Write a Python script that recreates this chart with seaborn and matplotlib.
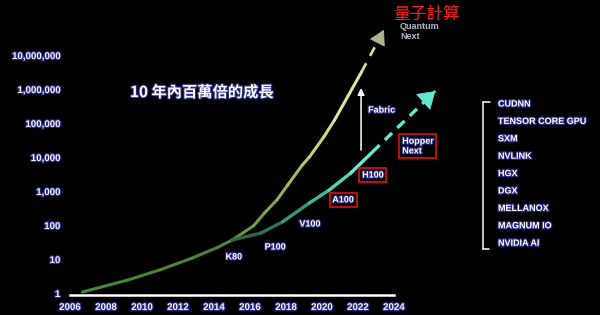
import numpy as np
import pandas as pd
import matplotlib
matplotlib.use("Agg")
import matplotlib.pyplot as plt
import matplotlib.patheffects as pe
from matplotlib.colors import LinearSegmentedColormap
from matplotlib.lines import Line2D
import seaborn as sns

# ---------------- data ----------------
x_ticks = [2006, 2008, 2010, 2012, 2014, 2016, 2018, 2020, 2022, 2024]
y_ticks = [1, 10, 100, 1_000, 10_000, 100_000, 1_000_000, 10_000_000]
y_tick_labels = ["1", "10", "100", "1,000", "10,000", "100,000", "1,000,000", "10,000,000"]

green_years = [2006.7, 2009.2, 2011.0, 2012.8, 2014.2, 2015.0, 2015.6, 2016.2, 2016.8,
               2017.5, 2018.1, 2018.9, 2019.3, 2020.1, 2020.7, 2022.2]
green_values = [1.07, 2.4, 4.8, 10.7, 22, 36, 58, 95, 224,
                550, 1510, 5750, 10000, 39000, 123000, 3200000]

cyan_years = [2015.0, 2016.6, 2017.8, 2019.3, 2020.4, 2021.6, 2022.8]
cyan_values = [36, 58, 123, 445, 1070, 3390, 14000]

green_next_years = [2022.2, 2023.44]
green_next_values = [3.2e6, 5.5e7]
cyan_next_years = [2022.8, 2026.3]
cyan_next_values = [1.4e4, 8.7e5]

fabric_years = [2022.17, 2022.17]
fabric_values = [1.6e4, 1.07e6]

gpu_labels = ["K80", "P100", "V100", "A100", "H100", "Hopper\nNext"]
gpu_years = [2015.1, 2017.4, 2019.33, 2021.17, 2022.83, 2025.33]
gpu_values = [11.5, 22.5, 107, 550, 2950, 21000]
gpu_boxed = [False, False, False, True, True, True]

stack_labels = ["CUDNN", "TENSOR CORE GPU", "SXM", "NVLINK", "HGX", "DGX",
                "MELLANOX", "MAGNUM IO", "NVIDIA AI"]

title_text = "10 年內百萬倍的成長"
quantum_cn = "量子計算"
quantum_en = "Quantum\nNext"
fabric_text = "Fabric"

# ---------------- style ----------------
sns.set_theme(style="dark")
plt.rcParams["font.family"] = ["Liberation Sans", "Noto Sans CJK TC", "DejaVu Sans"]
plt.rcParams["axes.facecolor"] = "black"
plt.rcParams["figure.facecolor"] = "black"

W, H = 600, 315
fig = plt.figure(figsize=(6, 3.15), dpi=100)
ax = fig.add_axes([70 / W, 20 / H, 324 / W, 274 / H])
ax.set_facecolor("black")
ax.set_yscale("log")
ax.set_xlim(2006, 2024)
ax.set_ylim(10 ** (-2 / 34), 1e8)

glow = [pe.withStroke(linewidth=1.6, foreground="#2a2a8a")]


def gradient_df(xs, ys):
    rows = []
    for i in range(len(xs) - 1):
        rows.append({"year": xs[i], "value": ys[i], "seg": i})
        rows.append({"year": xs[i + 1], "value": ys[i + 1], "seg": i})
    return pd.DataFrame(rows)


green_cmap = LinearSegmentedColormap.from_list(
    "g", [(0.0, "#44883a"), (0.5, "#4f803c"), (0.7, "#86ad55"), (0.85, "#c3d87c"), (1.0, "#e6eeb0")])
cyan_cmap = LinearSegmentedColormap.from_list(
    "c", [(0.0, "#2e5a36"), (0.3, "#2f7656"), (0.55, "#3aaa88"), (0.8, "#52dcbc"), (1.0, "#74f4dc")])


def draw_gradient(xs, ys, cmap, lw):
    df = gradient_df(xs, ys)
    x0, x1 = xs[0], xs[-1]
    cols = [cmap(((xs[i] + xs[i + 1]) / 2 - x0) / (x1 - x0)) for i in range(len(xs) - 1)]
    sns.lineplot(data=df, x="year", y="value", hue="seg", palette=cols, legend=False,
                 estimator=None, sort=False, lw=lw, ax=ax, solid_capstyle="round",
                 clip_on=False)


draw_gradient(green_years, green_values, green_cmap, 2.2)
draw_gradient(cyan_years, cyan_values, cyan_cmap, 2.4)

# dashed projections
sns.lineplot(x=green_next_years, y=green_next_values, ax=ax, color="#d6dc98", lw=2.0,
             clip_on=False)
ax.lines[-1].set_dashes((3.5, 3))
sns.lineplot(x=cyan_next_years, y=cyan_next_values, ax=ax, color="#62e8d0", lw=2.4,
             clip_on=False)
ax.lines[-1].set_dashes((3, 2.2))

# arrowheads
ax.annotate("", xy=(green_next_years[1], green_next_values[1]),
            xytext=(2023.13, 10 ** 7.42), annotation_clip=False,
            arrowprops=dict(arrowstyle="-|>,head_length=0.7,head_width=0.4", mutation_scale=14,
                            color="#aeb28e", lw=0.5, shrinkA=0, shrinkB=0))
ax.annotate("", xy=(cyan_next_years[1], cyan_next_values[1]),
            xytext=(2025.75, 10 ** 5.68), annotation_clip=False,
            arrowprops=dict(arrowstyle="-|>,head_length=0.7,head_width=0.45", mutation_scale=16,
                            color="#62e8d0", lw=0.5, shrinkA=0, shrinkB=0))

# fabric arrow
ax.annotate("", xy=(fabric_years[1], fabric_values[1]), xytext=(fabric_years[0], fabric_values[0]),
            annotation_clip=False,
            arrowprops=dict(arrowstyle="-|>,head_length=0.5,head_width=0.25", mutation_scale=8,
                            color="white", lw=1.1, shrinkA=0, shrinkB=0))
ax.text(2022.56, 2.4e5, fabric_text, color="white", fontsize=6.5, fontweight="bold",
        ha="left", va="center", path_effects=glow, clip_on=False)

# GPU labels
for lab, yx, yv, boxed in zip(gpu_labels, gpu_years, gpu_values, gpu_boxed):
    kw = {}
    if boxed:
        kw["bbox"] = dict(boxstyle="square,pad=0.3", fc="none", ec="#e01010", lw=1.2)
    ax.text(yx, yv, lab, color="white", fontsize=6.5, fontweight="bold", ha="center",
            va="center", multialignment="left", linespacing=1.1, path_effects=glow,
            clip_on=False, **kw)

# titles / notes
ax.text(2009.33, 8.1e5, title_text, color="white", fontsize=11, fontweight="bold",
        ha="left", va="center", family=["Noto Sans CJK TC", "DejaVu Sans"], path_effects=glow)
ax.text(2024.33, 4.9e7, quantum_en, color="#b4b4c8", fontsize=6.5, fontweight="bold",
        ha="left", va="center", linespacing=1.2, clip_on=False)
ax.text(2023.94, 1.6e8, quantum_cn, color="#ff1a1a", fontsize=12, ha="left", va="center",
        family=["Noto Sans CJK TC", "DejaVu Sans"], clip_on=False)

# axes styling
ax.set_xticks(x_ticks)
ax.set_xticklabels([str(t) for t in x_ticks])
ax.set_yticks(y_ticks)
ax.set_yticklabels(y_tick_labels)
ax.minorticks_off()
ax.tick_params(axis="both", length=0, colors="#f2f2ff", labelsize=7)
ax.tick_params(axis="y", pad=7)
ax.tick_params(axis="x", pad=5)
for lab in ax.get_xticklabels() + ax.get_yticklabels():
    lab.set_fontweight("bold")
    lab.set_path_effects(glow)
ax.grid(False)
for s in ["top", "right", "left"]:
    ax.spines[s].set_visible(False)
ax.spines["bottom"].set_color("white")
ax.spines["bottom"].set_linewidth(1.8)
ax.set_xlabel("")
ax.set_ylabel("")

# right-side stack list
list_top_px, list_step_px = 104, 17.4
for i, lab in enumerate(stack_labels):
    fig.text(498 / W, 1 - (list_top_px + i * list_step_px) / H, lab, color="white",
             fontsize=6.5, fontweight="bold", ha="left", va="center", path_effects=glow)
bx, by0, by1 = 483 / W, 1 - 102 / H, 1 - 249 / H
fig.add_artist(Line2D([bx, bx], [by0, by1], color="white", lw=1.1))
fig.add_artist(Line2D([bx, 490 / W], [by0, by0], color="white", lw=1.1))
fig.add_artist(Line2D([bx, 489 / W], [by1, by1], color="white", lw=1.1))

fig.savefig("out.png", dpi=100, facecolor="black")
